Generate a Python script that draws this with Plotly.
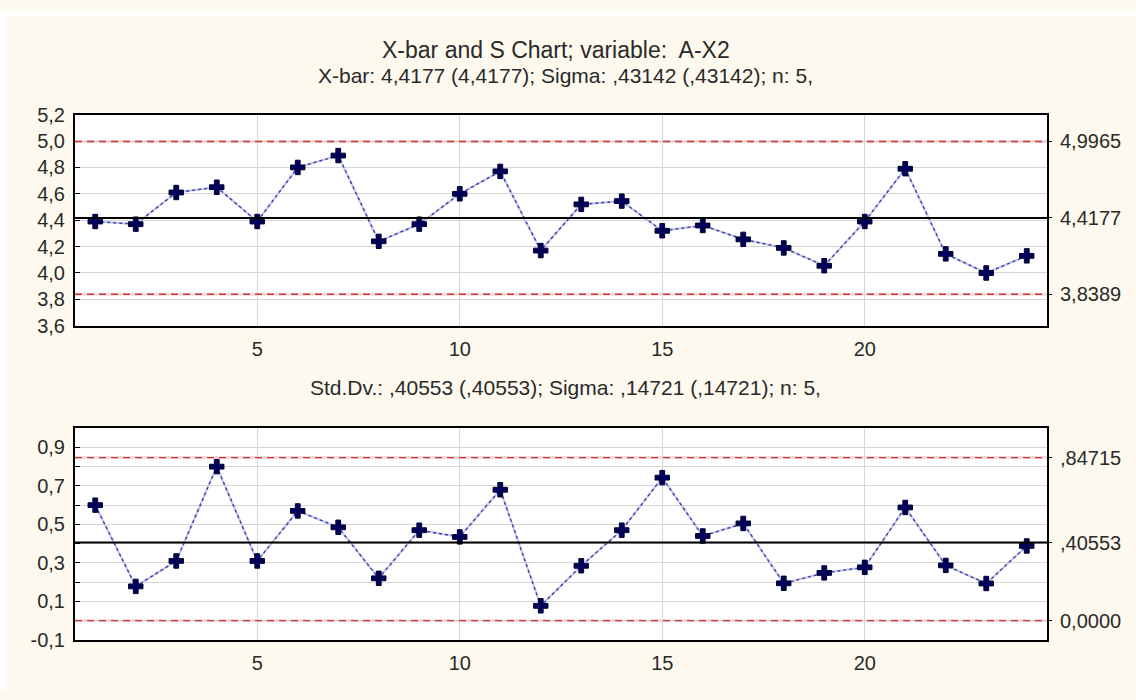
import plotly.graph_objects as go

# ---------------- data ----------------
samples = list(range(1, 25))
xbar_values = [4.39, 4.37, 4.61, 4.65, 4.39, 4.80, 4.89, 4.24, 4.37, 4.60, 4.77, 4.17,
               4.52, 4.545, 4.32, 4.36, 4.255, 4.19, 4.055, 4.39, 4.79, 4.145, 4.00, 4.13]
sd_values = [0.60, 0.178, 0.31, 0.80, 0.31, 0.57, 0.485, 0.22, 0.47, 0.435, 0.68, 0.077,
             0.285, 0.47, 0.743, 0.44, 0.505, 0.194, 0.248, 0.277, 0.588, 0.287, 0.193, 0.388]

xbar_limits = [3.8389, 4.4177, 4.9965]          # LCL, center, UCL
xbar_limit_labels = ["3,8389", "4,4177", "4,9965"]
sd_limits = [0.0, 0.40553, 0.84715]
sd_limit_labels = ["0,0000", ",40553", ",84715"]

x_ticks = [5, 10, 15, 20]
xbar_yticks = [3.6, 3.8, 4.0, 4.2, 4.4, 4.6, 4.8, 5.0, 5.2]
sd_yticks = [-0.1, 0.1, 0.3, 0.5, 0.7, 0.9]

title_text = "X-bar and S Chart; variable:  A-X2"
sub1_text = "X-bar: 4,4177 (4,4177); Sigma: ,43142 (,43142); n: 5,"
sub2_text = "Std.Dv.: ,40553 (,40553); Sigma: ,14721 (,14721); n: 5,"

# ---------------- style ----------------
FONT = "Liberation Sans"
TXT = "#2a2a2a"
BG = "#fdf9ee"
W, H = 1136, 700
xdom = [75 / W, 1047 / W]
ydom_top = [1 - 325 / H, 1 - 107 / H]
ydom_bot = [1 - 649.3 / H, 1 - 430.7 / H]
TICK_SIZE = 20


def fmt(v):
    return f"{v:.1f}".replace(".", ",")


fig = go.Figure()

for xa, ya, vals in [("x", "y", xbar_values), ("x2", "y2", sd_values)]:
    fig.add_trace(go.Scatter(x=samples, y=vals, xaxis=xa, yaxis=ya, mode="lines",
                             line=dict(color="#c8c8f2", width=2.2), hoverinfo="skip",
                             showlegend=False))
    fig.add_trace(go.Scatter(x=samples, y=vals, xaxis=xa, yaxis=ya, mode="lines+markers",
                             line=dict(color="#40409e", width=1.4, dash="dot"),
                             marker=dict(symbol="cross", size=12, color="#00005a",
                                         line=dict(color="#000030", width=1)),
                             showlegend=False))

# invisible traces so the right-hand limit axes are drawn
for ya, lims in [("y3", xbar_limits), ("y4", sd_limits)]:
    xa = "x" if ya == "y3" else "x2"
    fig.add_trace(go.Scatter(x=[samples[0]] * len(lims), y=lims, xaxis=xa, yaxis=ya,
                             mode="markers", marker=dict(opacity=0, size=1),
                             hoverinfo="skip", showlegend=False))

shapes = [
    dict(type="rect", xref="paper", yref="paper", x0=0, x1=1, y0=1 - 6 / H, y1=1,
         fillcolor="#ffffff", line=dict(width=0), layer="below"),
    dict(type="rect", xref="paper", yref="paper", x0=0, x1=7 / W, y0=0, y1=1,
         fillcolor="#ffffff", line=dict(width=0), layer="below"),
]
for yref, lims in [("y", xbar_limits), ("y2", sd_limits)]:
    xref = "x domain" if yref == "y" else "x2 domain"
    for i, v in enumerate(lims):
        if i == 1:
            shapes.append(dict(type="line", xref=xref, yref=yref, x0=0, x1=1, y0=v, y1=v,
                               line=dict(color="#000000", width=2), layer="above"))
        else:
            shapes.append(dict(type="line", xref=xref, yref=yref, x0=0, x1=1, y0=v, y1=v,
                               line=dict(color="#f3dada", width=3), layer="below"))
            shapes.append(dict(type="line", xref=xref, yref=yref, x0=0, x1=1, y0=v, y1=v,
                               line=dict(color="#c83a3a", width=1.3, dash="7px,5px"),
                               layer="above"))

axis_common = dict(showline=True, linecolor="#000000", linewidth=2, mirror=True,
                   gridcolor="#d6d6d6", gridwidth=1, zeroline=False,
                   tickfont=dict(family=FONT, size=TICK_SIZE, color=TXT))
right_common = dict(showgrid=False, zeroline=False, ticks="outside", ticklen=4,
                    tickcolor="#000000", ticklabelstandoff=4,
                    tickfont=dict(family=FONT, size=TICK_SIZE, color=TXT))

fig.update_layout(
    width=W, height=H,
    margin=dict(l=0, r=0, t=0, b=0),
    paper_bgcolor=BG,
    plot_bgcolor="#ffffff",
    shapes=shapes,
    xaxis=dict(domain=xdom, anchor="y", range=[0.5, 24.5], tickvals=x_ticks,
               ticks="", ticklabelstandoff=4, **axis_common),
    yaxis=dict(domain=ydom_top, anchor="x", range=[3.6, 5.2], tickvals=xbar_yticks,
               ticktext=[fmt(v) for v in xbar_yticks], ticks="inside", ticklen=5,
               tickcolor="#000000", ticklabelstandoff=4, **axis_common),
    yaxis3=dict(overlaying="y", anchor="x", side="right", range=[3.6, 5.2],
                tickvals=xbar_limits, ticktext=xbar_limit_labels, **right_common),
    xaxis2=dict(domain=xdom, anchor="y2", range=[0.5, 24.5], tickvals=x_ticks,
                ticks="", ticklabelstandoff=4, **axis_common),
    yaxis2=dict(domain=ydom_bot, anchor="x2", range=[-0.1, 1.0], tickvals=sd_yticks,
                ticktext=[fmt(v) for v in sd_yticks], ticks="inside", ticklen=5,
                tickcolor="#000000", ticklabelstandoff=4,
                minor=dict(dtick=0.1, tick0=0, showgrid=True, gridcolor="#d6d6d6",
                           ticks="inside", ticklen=5, tickcolor="#000000"),
                **axis_common),
    yaxis4=dict(overlaying="y2", anchor="x2", side="right", range=[-0.1, 1.0],
                tickvals=sd_limits, ticktext=sd_limit_labels, **right_common),
    annotations=[
        dict(text=title_text, xref="paper", yref="paper", x=556 / W, y=1 - 40 / H,
             xanchor="center", yanchor="middle", showarrow=False,
             font=dict(family=FONT, size=23, color=TXT)),
        dict(text=sub1_text, xref="paper", yref="paper", x=565 / W, y=1 - 67 / H,
             xanchor="center", yanchor="middle", showarrow=False,
             font=dict(family=FONT, size=21, color=TXT)),
        dict(text=sub2_text, xref="paper", yref="paper", x=565 / W, y=1 - 389 / H,
             xanchor="center", yanchor="middle", showarrow=False,
             font=dict(family=FONT, size=21, color=TXT)),
    ],
)

fig.write_html("out.html")
